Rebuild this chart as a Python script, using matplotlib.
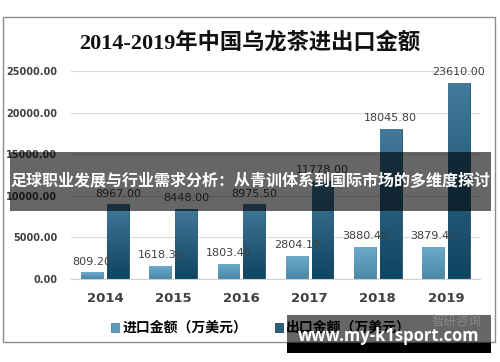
#!/usr/bin/env python3

import numpy as np
import matplotlib
matplotlib.use('Agg')
from matplotlib import pyplot as plt
from matplotlib.patches import Rectangle
from matplotlib.colors import LinearSegmentedColormap

# data
years = ['2014', '2015', '2016', '2017', '2018', '2019']
imports = [809.20, 1618.30, 1803.40, 2804.10, 3880.40, 3879.40]
exports = [8967.00, 8448.00, 8975.50, 11778.00, 18045.80, 23610.00]
title = '2014-2019年中国乌龙茶进出口金额'
import_label = '进口金额（万美元）'
export_label = '出口金额（万美元）'
banner_text = '足球职业发展与行业需求分析：从青训体系到国际市场的多维度探讨'
site_text = 'www.my-k1sport.com'
watermark = '智研咨询'

CJK = ['Noto Sans CJK SC', 'DejaVu Sans']
plt.rcParams['font.family'] = CJK

W, H = 500, 362


def fx(px):
    return px / W


def fy(py):
    # pixel y from top -> figure fraction
    return 1 - py / H


def shade_bars(ax, bars, top, bottom):
    # vertical gradient inside each bar
    cmap = LinearSegmentedColormap.from_list('g', [bottom, top])
    grad = np.linspace(0, 1, 64).reshape(-1, 1)
    for r in bars:
        x0, y0 = r.get_x(), r.get_y()
        im = ax.imshow(grad, cmap=cmap, origin='lower', aspect='auto',
                       extent=(x0, x0 + r.get_width(), y0, y0 + r.get_height()),
                       zorder=2.1, interpolation='bilinear')
        im.set_clip_path(r)


def main():
    fig = plt.figure(figsize=(5.0, 3.62), dpi=100)
    fig.patch.set_facecolor('white')

    # outer chart frame
    fig.patches.append(Rectangle((fx(3), fy(342)), fx(492), 325 / H,
                                 transform=fig.transFigure, fill=False,
                                 edgecolor='#8c8c8c', lw=1.0))

    ax = fig.add_axes([fx(71), fy(279), fx(409), 208 / H])
    x = np.arange(len(years))
    w = 0.32
    b1 = ax.bar(x - 0.19, imports, w, color='#5a9cbd', edgecolor='#4a86a4',
                lw=0.6, label=import_label, zorder=2)
    b2 = ax.bar(x + 0.19, exports, w, color='#2a5d79', edgecolor='#22506a',
                lw=0.6, label=export_label, zorder=2)
    shade_bars(ax, b1, '#6cadcd', '#4b86a5')
    shade_bars(ax, b2, '#43799a', '#0f4560')

    for bars, vals in ((b1, imports), (b2, exports)):
        for r, v in zip(bars, vals):
            ax.annotate('%.2f' % v, (r.get_x() + r.get_width() / 2, v),
                        xytext=(0, 4), textcoords='offset points',
                        ha='center', va='bottom', fontsize=8,
                        family='DejaVu Sans', color='#404040', zorder=3,
                        annotation_clip=False)

    ax.set_xlim(-0.5, len(years) - 0.5)
    ax.set_ylim(0, 25000)
    ax.set_yticks(np.arange(0, 25001, 5000))
    ax.set_yticklabels(['%.2f' % t for t in np.arange(0, 25001, 5000)],
                       fontsize=7, fontweight='bold', color='#404040',
                       family='DejaVu Sans')
    ax.set_xticks(x)
    ax.set_xticklabels(years, fontsize=9.5, fontweight='bold',
                       color='#404040', family='DejaVu Sans')
    ax.tick_params(length=0, pad=10)
    ax.tick_params(axis='x', pad=9)
    ax.grid(axis='y', color='#d9d9d9', lw=0.8, zorder=0)
    for s in ['top', 'right', 'left']:
        ax.spines[s].set_visible(False)
    ax.spines['bottom'].set_color('#d0d0d0')
    ax.set_axisbelow(True)

    fig.text(0.5, fy(43), title, ha='center', va='center', fontsize=16,
             fontweight='bold', color='#111111',
             family=['Liberation Serif', 'Noto Sans CJK SC'])

    ax.legend(loc='center', bbox_to_anchor=(fx(261), fy(328)),
              bbox_transform=fig.transFigure, ncol=2, frameon=False,
              handlelength=0.6, handleheight=0.6,
              handletextpad=0.2, columnspacing=2.0,
              prop={'family': CJK, 'size': 10, 'weight': 'bold'})

    # dark overlay band with headline
    fig.patches.append(Rectangle((fx(10), fy(211)), fx(481), 59 / H,
                                 transform=fig.transFigure, color='black',
                                 alpha=0.6, lw=0, zorder=10))
    fig.text(fx(250), fy(181), banner_text, ha='center', va='center',
             fontsize=11.5, fontweight='bold', color='white', zorder=11)

    # bottom site banner
    fig.patches.append(Rectangle((fx(287), fy(343)), fx(204), 28 / H,
                                 transform=fig.transFigure, color='black',
                                 alpha=0.6, lw=0, zorder=10))
    fig.patches.append(Rectangle((fx(287), fy(353)), fx(204), 10 / H,
                                 transform=fig.transFigure, color='black',
                                 lw=0, zorder=10))
    fig.text(fx(456), fy(321), watermark, ha='center', va='center',
             fontsize=9, color='#8a8a8a', zorder=11)
    fig.text(fx(389), fy(336), site_text, ha='center', va='center',
             fontsize=12, fontweight='bold', color='white',
             family='Open Sans', zorder=12)

    fig.savefig('out.png', dpi=100)


if __name__ == '__main__':
    main()
